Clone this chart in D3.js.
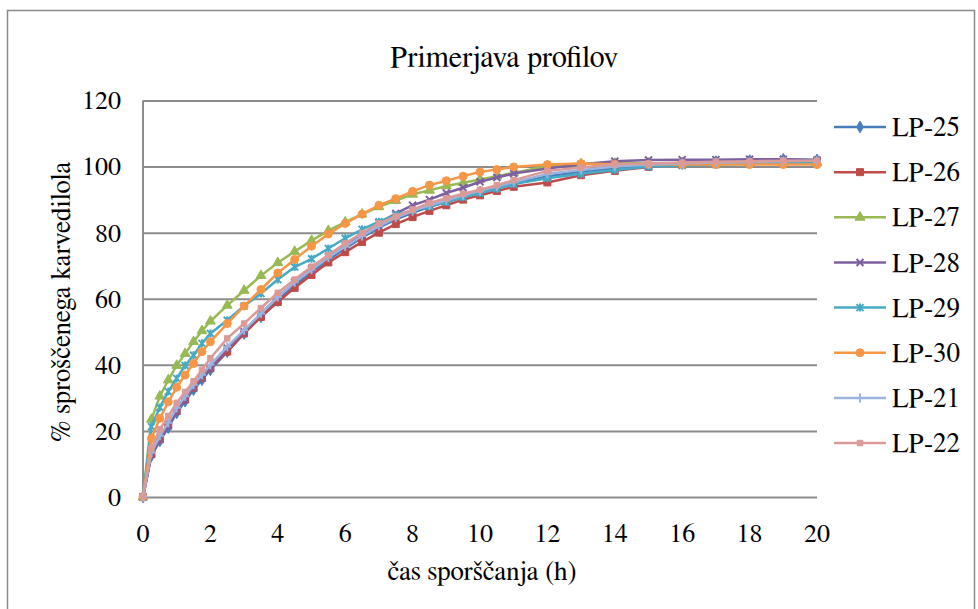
<!DOCTYPE html>
<html>
<head>
<meta charset="utf-8">
<script src="https://cdn.jsdelivr.net/npm/d3@7"></script>
</head>
<body style="margin:0">
<svg id="chart" width="978" height="609"></svg>
<script>
// ---- data ----
const times = [0, 0.25, 0.5, 0.75, 1, 1.25, 1.5, 1.75, 2, 2.5, 3, 3.5, 4, 4.5, 5, 5.5, 6, 6.5, 7, 7.5, 8, 8.5, 9, 9.5, 10, 10.5, 11, 12, 13, 14, 15, 16, 17, 18, 19, 20];

const seriesNames = ["LP-25", "LP-26", "LP-27", "LP-28", "LP-29", "LP-30", "LP-21", "LP-22"];

const lp25 = [0, 12.5, 17, 21, 25.5, 29, 32.5, 35.5, 38.5, 44, 49.5, 54.5, 59.5, 64, 68, 71.8, 75.2, 78.5, 81.5, 84, 86, 87.8, 89.3, 90.8, 92.3, 93.5, 95, 97, 98.5, 99.5, 100.5, 101, 101.5, 101.8, 102.2, 102];
const lp26 = [0, 13, 17.5, 22, 26, 29.5, 33, 36, 39, 44, 49.5, 54.5, 59, 63.3, 67.2, 71, 74.1, 77.2, 80, 82.6, 84.7, 86.6, 88.3, 90, 91.3, 92.6, 93.9, 95.2, 97.4, 98.7, 99.9, 100.8, 101.2, 101.5, 101.5, 101.5];
const lp27 = [0, 23.5, 30.5, 35.4, 39.8, 43.4, 47, 50.3, 53.2, 58, 62.5, 67, 70.9, 74.3, 77.6, 80.6, 83.2, 85.6, 87.8, 89.7, 91.6, 92.8, 94.1, 95.1, 96.1, 97.1, 98.1, 100.2, 100.8, 101, 101, 101, 101, 101.1, 101.1, 101.2];
const lp28 = [0, 13, 17.5, 21.5, 26, 29.5, 33, 36, 39, 45, 50, 55.5, 60.5, 65, 69, 72.7, 76, 79.5, 83, 85.8, 88.3, 90, 92, 93.6, 95.4, 96.7, 97.9, 99.4, 100.7, 101.6, 102, 102.1, 102.1, 102.2, 102.2, 102];
const lp29 = [0, 21.3, 27.1, 31.9, 35.9, 39.8, 42.9, 46.5, 49.5, 53.5, 57.8, 61.6, 65.8, 69.6, 72.1, 75.2, 78.3, 81, 83.3, 85.3, 86.8, 88, 89.3, 90.7, 92, 93.3, 94.7, 96.5, 97.8, 99, 100, 100.3, 100.6, 100.8, 101, 101];
const lp30 = [0, 17.7, 23.8, 28.8, 33.2, 36.9, 40.4, 44, 47, 52.5, 57.8, 62.8, 67.8, 71.9, 75.9, 79.6, 82.8, 85.6, 88.3, 90.3, 92.5, 94.4, 95.7, 97.1, 98.4, 99.1, 99.9, 100.6, 100.9, 100.7, 100.7, 100.6, 100.6, 100.6, 100.6, 100.6];
const lp21 = [0, 13.5, 18.5, 22.5, 27, 30.5, 34, 37, 40, 45.5, 50.5, 55.5, 60.5, 65, 68.8, 72.5, 75.8, 79, 82, 84.5, 86.5, 88.3, 89.8, 91.3, 92.7, 94, 95.3, 97.8, 99, 100, 100.6, 101, 101.2, 101.4, 101.6, 101.8];
const lp22 = [0, 14.7, 20.5, 24.5, 28.5, 31.8, 35, 38.5, 42, 48, 52.5, 57.2, 61.8, 65.8, 69.7, 73.2, 76.8, 79.9, 82.8, 84.9, 87, 89, 90.4, 91.8, 93, 94.4, 95.9, 98.7, 99.7, 100.7, 100.9, 101.2, 101.5, 101.6, 101.8, 101.8];

const seriesValues = [lp25, lp26, lp27, lp28, lp29, lp30, lp21, lp22];
const seriesColors = ["#4A7EBB", "#BE4B48", "#98B954", "#7D60A0", "#46AAC5", "#F79646", "#9BB3DE", "#DB9A98"];
const seriesMarkers = ["diamond", "square", "triangle", "x", "star", "circle", "plus", "smallsquare"];

const yTicks = [0, 20, 40, 60, 80, 100, 120];
const xTicks = [0, 2, 4, 6, 8, 10, 12, 14, 16, 18, 20];

const chartTitle = "Primerjava profilov";
const xTitle = "čas sporščanja (h)";
const yTitle = "% sproščenega karvedilola";

// ---- drawing ----
const svg = d3.select("#chart");

function addText(parent, size) {
  return parent.append("text")
    .style("font-family", "'FreeSerif'")
    .style("font-size", size + "px")
    .attr("fill", "#000");
}

// outer chart border
svg.append("rect")
  .attr("x", 7.5).attr("y", 10.5)
  .attr("width", 967).attr("height", 610)
  .attr("fill", "#fff").attr("stroke", "#8a8a8a").attr("stroke-width", 1.5);

const x = d3.scaleLinear().domain([0, 20]).range([143, 817]);
const y = d3.scaleLinear().domain([0, 120]).range([497, 100.5]);

// gridlines
const gridAxis = d3.axisLeft(y).tickValues(yTicks).tickSize(-(x.range()[1] - x.range()[0])).tickFormat("");
const grid = svg.append("g").attr("transform", `translate(${x.range()[0]},0)`).call(gridAxis);
grid.select(".domain").remove();
grid.selectAll(".tick text").remove();
grid.selectAll(".tick line").attr("stroke", "#8c8c8c").attr("stroke-width", 2);

// y axis line
svg.append("line")
  .attr("x1", x(0)).attr("x2", x(0))
  .attr("y1", y(120)).attr("y2", y(0))
  .attr("stroke", "#8c8c8c").attr("stroke-width", 2);

// y tick labels
const yLab = svg.append("g");
yTicks.forEach(v => {
  addText(yLab, 26).attr("x", 121).attr("y", y(v)).attr("dy", "0.34em")
    .attr("text-anchor", "end").text(v);
});

// x tick labels
const xLab = svg.append("g");
xTicks.forEach(v => {
  addText(xLab, 26).attr("x", x(v)).attr("y", 542)
    .attr("text-anchor", "middle").text(v);
});

// titles
addText(svg, 30).attr("x", 504).attr("y", 67).attr("text-anchor", "middle").text(chartTitle);
addText(svg, 27).attr("x", 482).attr("y", 580).attr("text-anchor", "middle").text(xTitle);
addText(svg, 27).attr("transform", "translate(70,302) rotate(-90)").attr("text-anchor", "middle").text(yTitle);

// markers
function markerPath(kind) {
  switch (kind) {
    case "diamond": return d3.symbol(d3.symbolDiamond, 40)();
    case "square": return d3.symbol(d3.symbolSquare, 49)();
    case "triangle": return d3.symbol(d3.symbolTriangle, 42)();
    case "circle": return d3.symbol(d3.symbolCircle, 50)();
    case "smallsquare": return d3.symbol(d3.symbolSquare, 30)();
    case "x": return "M-3.5,-3.5L3.5,3.5M-3.5,3.5L3.5,-3.5";
    case "star": return "M-3.5,-3.5L3.5,3.5M-3.5,3.5L3.5,-3.5M0,-4L0,4";
    case "plus": return "M0,-4.5L0,4.5M-4,0L4,0";
  }
}
const strokeMarkers = new Set(["x", "star", "plus"]);

const line = d3.line().x(d => x(d.t)).y(d => y(d.v));

seriesNames.forEach((name, i) => {
  const pts = times.map((t, j) => ({ t: t, v: seriesValues[i][j] }));
  const g = svg.append("g");
  g.append("path").datum(pts)
    .attr("d", line).attr("fill", "none")
    .attr("stroke", seriesColors[i]).attr("stroke-width", 2.5)
    .attr("stroke-linejoin", "round");
  const mk = markerPath(seriesMarkers[i]);
  g.selectAll("path.m").data(pts).join("path").attr("class", "m")
    .attr("d", mk)
    .attr("transform", d => `translate(${x(d.t)},${y(d.v)})`)
    .attr("fill", strokeMarkers.has(seriesMarkers[i]) ? "none" : seriesColors[i])
    .attr("stroke", seriesColors[i])
    .attr("stroke-width", strokeMarkers.has(seriesMarkers[i]) ? 2 : 1);
});

// legend
const legY0 = 127, legStep = 45.15;
seriesNames.forEach((name, i) => {
  const cy = legY0 + i * legStep;
  const g = svg.append("g");
  g.append("line").attr("x1", 834).attr("x2", 886).attr("y1", cy).attr("y2", cy)
    .attr("stroke", seriesColors[i]).attr("stroke-width", 2.5);
  g.append("path").attr("d", markerPath(seriesMarkers[i]))
    .attr("transform", `translate(860,${cy})`)
    .attr("fill", strokeMarkers.has(seriesMarkers[i]) ? "none" : seriesColors[i])
    .attr("stroke", seriesColors[i])
    .attr("stroke-width", strokeMarkers.has(seriesMarkers[i]) ? 2 : 1);
  addText(g, 27).attr("x", 892).attr("y", cy).attr("dy", "0.34em").text(name);
});
</script>
</body>
</html>
